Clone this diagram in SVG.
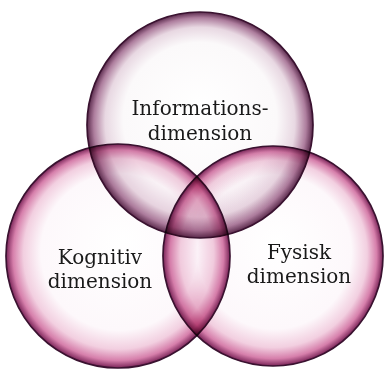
<svg xmlns="http://www.w3.org/2000/svg" width="384" height="369" viewBox="0 0 384 369">
  <defs>
    <radialGradient id="gTop" cx="0.5" cy="0.5" r="0.5" fx="0.5" fy="0.42">
      <stop offset="0" stop-color="#ffffff"/>
      <stop offset="0.68" stop-color="#fbf9fa"/>
      <stop offset="0.84" stop-color="#e8d8e2"/>
      <stop offset="0.94" stop-color="#ad7d9d"/>
      <stop offset="1" stop-color="#5a2a4c"/>
    </radialGradient>
    <radialGradient id="gPink" cx="0.5" cy="0.5" r="0.5" fx="0.52" fy="0.44">
      <stop offset="0" stop-color="#ffffff"/>
      <stop offset="0.7" stop-color="#fdf8fb"/>
      <stop offset="0.85" stop-color="#f2cfe0"/>
      <stop offset="0.94" stop-color="#d67fab"/>
      <stop offset="1" stop-color="#7a2458"/>
    </radialGradient>
    <style>
      .bubble { mix-blend-mode: multiply; }
      .rim { fill: none; stroke: #3a1230; stroke-width: 1.7; }
      .lbl { font-family: "DejaVu Serif", "Liberation Serif", serif; font-size: 20px; fill: #1a1a1a; text-anchor: middle; }
    </style>
  </defs>
  <rect width="384" height="369" fill="#ffffff"/>
  <g id="informationsdimension" class="bubble">
    <circle cx="200" cy="125" r="113" fill="url(#gTop)"/>
    <circle class="rim" cx="200" cy="125" r="113"/>
  </g>
  <g id="kognitiv-dimension" class="bubble">
    <circle cx="118" cy="256" r="112" fill="url(#gPink)"/>
    <circle class="rim" cx="118" cy="256" r="112"/>
  </g>
  <g id="fysisk-dimension" class="bubble">
    <circle cx="273" cy="256" r="110" fill="url(#gPink)"/>
    <circle class="rim" cx="273" cy="256" r="110"/>
  </g>
  <g id="labels">
    <text class="lbl" x="200" y="115">Informations-</text>
    <text class="lbl" x="200" y="140">dimension</text>
    <text class="lbl" x="100" y="264">Kognitiv</text>
    <text class="lbl" x="100" y="288">dimension</text>
    <text class="lbl" x="299" y="259">Fysisk</text>
    <text class="lbl" x="299" y="283">dimension</text>
  </g>
</svg>
